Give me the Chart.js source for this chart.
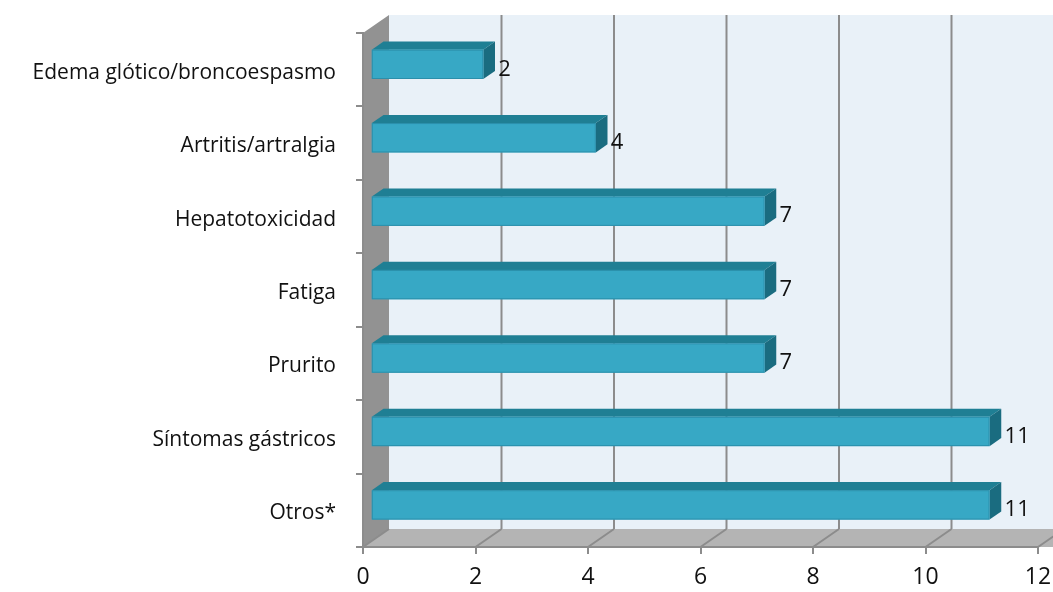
<!DOCTYPE html>
<html>
<head>
<meta charset="utf-8">
<script src="https://cdn.jsdelivr.net/npm/chart.js@4.4.0/dist/chart.umd.min.js"></script>
<style>
  html, body { margin: 0; padding: 0; background: #fff; }
  #wrap { width: 1053px; height: 592px; }
</style>
</head>
<body>
<div id="wrap"><canvas id="chart"></canvas></div>
<script>
// data
const categories = ["Edema glótico/broncoespasmo", "Artritis/artralgia", "Hepatotoxicidad", "Fatiga", "Prurito", "Síntomas gástricos", "Otros*"];
const counts = [2, 4, 7, 7, 7, 11, 11];
const xTicks = [0, 2, 4, 6, 8, 10, 12];

// fake 3D depth (pixels of offset from front plane to back wall)
const DX = 26, DY = -18;
const BAR_FRONT = 0.3, BAR_DEPTH = 0.45;

const fontFam = "'Open Sans', Lato, sans-serif";

const depthPlugin = {
    id: "depth3d",
    beforeDraw(chart) {
        const { ctx, chartArea: a, scales } = chart;
        const L = a.left, R = a.right, T = a.top, B = a.bottom;
        ctx.save();
        // back wall
        ctx.fillStyle = "#e9f1f8";
        ctx.fillRect(L + DX, T + DY, R - L + 40, B - T);
        // side wall
        ctx.fillStyle = "#929292";
        ctx.beginPath();
        ctx.moveTo(L, T); ctx.lineTo(L + DX, T + DY); ctx.lineTo(L + DX, B + DY); ctx.lineTo(L, B);
        ctx.closePath(); ctx.fill();
        // floor
        ctx.fillStyle = "#b4b4b4";
        ctx.beginPath();
        ctx.moveTo(L, B); ctx.lineTo(L + DX, B + DY); ctx.lineTo(R + DX + 40, B + DY); ctx.lineTo(R + 40, B);
        ctx.closePath(); ctx.fill();
        // grid lines on back wall and floor
        ctx.strokeStyle = "#8c8c8c";
        ctx.lineWidth = 2;
        xTicks.forEach(v => {
            const px = scales.x.getPixelForValue(v);
            ctx.beginPath();
            if (v > 0) {
                ctx.moveTo(px + DX, T + DY);
                ctx.lineTo(px + DX, B + DY);
            }
            ctx.moveTo(px + DX, B + DY);
            ctx.lineTo(px, B);
            ctx.stroke();
        });
        ctx.restore();
    },
    afterDatasetsDraw(chart) {
        const { ctx } = chart;
        const meta = chart.getDatasetMeta(0);
        ctx.save();
        meta.data.forEach((bar, i) => {
            const fx = BAR_FRONT * DX, fy = BAR_FRONT * DY;
            const dx = BAR_DEPTH * DX, dy = BAR_DEPTH * DY;
            const x0 = bar.base + fx, x1 = bar.x + fx;
            const top = bar.y - bar.height / 2 + fy, bot = bar.y + bar.height / 2 + fy;
            // top face
            ctx.fillStyle = "#1f7f94";
            ctx.beginPath();
            ctx.moveTo(x0, top); ctx.lineTo(x0 + dx, top + dy); ctx.lineTo(x1 + dx, top + dy); ctx.lineTo(x1, top);
            ctx.closePath(); ctx.fill();
            // side face
            ctx.fillStyle = "#1a6c80";
            ctx.beginPath();
            ctx.moveTo(x1, top); ctx.lineTo(x1 + dx, top + dy); ctx.lineTo(x1 + dx, bot + dy); ctx.lineTo(x1, bot);
            ctx.closePath(); ctx.fill();
            // front face
            ctx.fillStyle = "#37a8c5";
            ctx.fillRect(x0, top, x1 - x0, bot - top);
            ctx.strokeStyle = "#2b8fab";
            ctx.lineWidth = 1;
            ctx.strokeRect(x0 + 0.5, top + 0.5, x1 - x0 - 1, bot - top - 1);
            // value label
            ctx.fillStyle = "#111";
            ctx.font = "22px " + fontFam;
            ctx.textBaseline = "middle";
            ctx.textAlign = "left";
            ctx.fillText(String(counts[i]), x1 + 15, (top + bot) / 2 + 5);
        });
        ctx.restore();
    }
};

new Chart(document.getElementById("chart"), {
    type: "bar",
    data: {
        labels: categories,
        datasets: [{
            data: counts,
            backgroundColor: "rgba(0,0,0,0)",
            borderWidth: 0,
            categoryPercentage: 0.4,
            barPercentage: 1.0
        }]
    },
    options: {
        indexAxis: "y",
        responsive: true,
        maintainAspectRatio: false,
        animation: false,
        layout: { padding: { top: 33, right: 15, left: 0, bottom: 0 } },
        plugins: { legend: { display: false }, tooltip: { enabled: false } },
        scales: {
            x: {
                min: 0, max: 12,
                afterBuildTicks(scale) { scale.ticks = xTicks.map(v => ({ value: v })); },
                afterFit(scale) { scale.height = 45; scale.paddingRight = 0; scale.paddingLeft = 0; },
                grid: { drawOnChartArea: false, drawTicks: true, tickLength: 7, color: "#8c8c8c", lineWidth: 2 },
                border: { display: true, color: "#8c8c8c", width: 2 },
                ticks: { color: "#111", padding: 10, font: { family: fontFam, size: 23 } }
            },
            y: {
                afterFit(scale) { scale.width = 363; },
                grid: { drawOnChartArea: false, drawTicks: true, tickLength: 7, color: "#8c8c8c", lineWidth: 2, offset: true },
                border: { display: true, color: "#8c8c8c", width: 2 },
                ticks: { color: "#111", padding: 20, labelOffset: 3, font: { family: fontFam, size: 21 } }
            }
        }
    },
    plugins: [depthPlugin]
});
</script>
</body>
</html>
